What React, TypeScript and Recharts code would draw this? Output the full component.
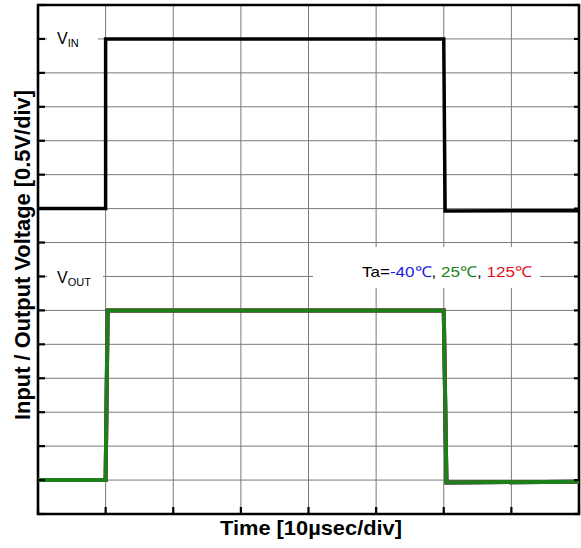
import { CartesianGrid, Line, LineChart, ReferenceArea, XAxis, YAxis } from "recharts";

// time in divisions (10 µs/div), voltage in divisions (0.5 V/div)
const timeTicks = [0, 1, 2, 3, 4, 5, 6, 7, 8];
const voltTicks = [0, 1, 2, 3, 4, 5, 6, 7, 8, 9, 10, 11, 12, 13, 14, 15];

const vinTime = [0, 1.0, 1.0, 6.0, 6.02, 8];
const vinVolt = [9, 9, 14, 14, 8.93, 8.94];

const voutTime = [0, 1.0, 1.03, 6.0, 6.04, 8];
const voutMinus40 = [1, 1, 6, 6, 0.93, 0.95];
const vout25 = [1, 1, 6, 6, 0.93, 0.95];
const vout125 = [1, 1, 6, 6, 0.93, 0.95];

const toRows = (t: number[], v: number[]) => t.map((x, i) => ({ t: x, v: v[i] }));

const W = 581;
const H = 548;
const font = "'Liberation Sans', Arial, sans-serif";

const Overlay = () => (
  <svg
    width={W}
    height={H}
    style={{ position: "absolute", left: 0, top: 0, pointerEvents: "none" }}
    fontFamily={font}
  >
    <rect x={47} y={28} width={51} height={24} fill="#fff" />
    <text x={57} y={44} fontSize={16}>
      V<tspan fontSize={11} dy={3}>IN</tspan>
    </text>

    <rect x={47} y={265} width={56} height={25} fill="#fff" />
    <text x={57} y={283} fontSize={16}>
      V<tspan fontSize={11} dy={3}>OUT</tspan>
    </text>

    <rect x={313} y={247} width={227} height={41} fill="#fff" />
    <text x={362} y={277} fontSize={15} textLength={170} lengthAdjust="spacingAndGlyphs">
      <tspan fill="#000">Ta=</tspan>
      <tspan fill="#1c1ce0">-40℃</tspan>
      <tspan fill="#000">, </tspan>
      <tspan fill="#1a801a">25℃</tspan>
      <tspan fill="#000">, </tspan>
      <tspan fill="#e0101e">125℃</tspan>
    </text>

    <text
      x={311}
      y={535}
      fontSize={21}
      fontWeight="bold"
      textAnchor="middle"
      textLength={182}
      lengthAdjust="spacingAndGlyphs"
    >
      Time [10µsec/div]
    </text>
    <text
      x={0}
      y={0}
      transform="translate(30 255) rotate(-90)"
      fontSize={21.5}
      fontWeight="bold"
      textAnchor="middle"
      textLength={330}
      lengthAdjust="spacingAndGlyphs"
    >
      Input / Output Voltage [0.5V/div]
    </text>
  </svg>
);

export default function App() {
  const tick = { stroke: "#000", strokeWidth: 2.2 };
  return (
    <div style={{ position: "absolute", left: 0, top: 0, width: W, height: H, background: "#fff" }}>
      <LineChart width={W} height={H} margin={{ top: 5, right: 2, bottom: 33, left: 38 }}>
        <CartesianGrid yAxisId="l" stroke="#7a7a7a" strokeWidth={1} />
        <XAxis
          type="number"
          dataKey="t"
          domain={[0, 8]}
          ticks={timeTicks}
          allowDataOverflow
          height={1}
          tickSize={-7}
          tickLine={tick}
          axisLine={false}
          tickFormatter={() => ""}
        />
        <YAxis
          yAxisId="l"
          type="number"
          domain={[0, 15]}
          ticks={voltTicks}
          allowDataOverflow
          mirror
          width={1}
          tickSize={7}
          tickLine={tick}
          axisLine={false}
          tickFormatter={() => ""}
        />
        <YAxis
          yAxisId="r"
          orientation="right"
          type="number"
          domain={[0, 15]}
          ticks={voltTicks}
          allowDataOverflow
          mirror
          width={1}
          tickSize={5}
          tickLine={tick}
          axisLine={false}
          tickFormatter={() => ""}
        />
        <ReferenceArea
          yAxisId="l"
          x1={0}
          x2={8}
          y1={0}
          y2={15}
          fill="none"
          stroke="#000"
          strokeWidth={2.6}
          fillOpacity={0}
        />
        <Line
          yAxisId="l"
          data={toRows(vinTime, vinVolt)}
          dataKey="v"
          stroke="#000"
          strokeWidth={3.5}
          dot={false}
          isAnimationActive={false}
        />
        <Line
          yAxisId="l"
          data={toRows(voutTime, voutMinus40)}
          dataKey="v"
          stroke="#1c1ce0"
          strokeWidth={4}
          dot={false}
          isAnimationActive={false}
        />
        <Line
          yAxisId="l"
          data={toRows(voutTime, vout125)}
          dataKey="v"
          stroke="#e0101e"
          strokeWidth={4}
          dot={false}
          isAnimationActive={false}
        />
        <Line
          yAxisId="l"
          data={toRows(voutTime, vout25)}
          dataKey="v"
          stroke="#1a801a"
          strokeWidth={4}
          dot={false}
          isAnimationActive={false}
        />
      </LineChart>
      <Overlay />
    </div>
  );
}
